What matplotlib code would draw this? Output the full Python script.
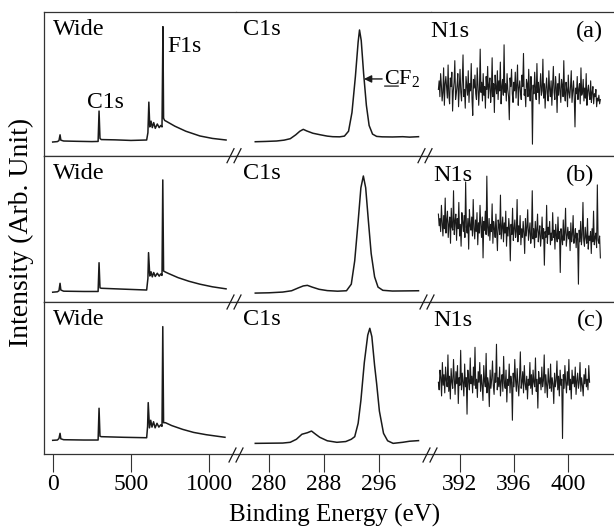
import numpy as np
import matplotlib
matplotlib.use('Agg')
import matplotlib.pyplot as plt
from matplotlib.lines import Line2D

plt.rcParams['font.family'] = ['Liberation Serif', 'DejaVu Serif']
plt.rcParams['font.size'] = 17
plt.rcParams['mathtext.fontset'] = 'custom'
plt.rcParams['mathtext.rm'] = 'Liberation Serif'

# ---------------------------------------------------------------- data
panel_tags = ['(a)', '(b)', '(c)']

# survey scans (binding energy in eV, intensity in % of panel height)
wide_ev_a = [0, 30, 40, 47, 52, 70, 150, 250, 290, 296, 302, 310, 400, 500, 600,
             608, 614, 620, 628, 636, 645, 655, 668, 680, 690, 698, 704, 708,
             715, 730, 780, 850, 940, 1020, 1107]
wide_a = [9.5, 9.8, 10.5, 14.5, 10.8, 10.2, 10.0, 9.8, 9.9, 31.0, 12.0, 11.2, 11.0,
          10.6, 10.9, 16.0, 37.2, 20.0, 24.0, 19.5, 23.0, 19.0, 22.0, 19.5, 21.0,
          20.0, 89.6, 26.0, 24.5, 23.6, 20.5, 17.0, 13.7, 12.0, 10.9]

wide_ev_b = [0, 30, 40, 47, 52, 70, 200, 290, 296, 302, 310, 450, 600, 608, 612,
             620, 628, 636, 645, 655, 668, 680, 690, 698, 703, 708, 720, 740, 800,
             870, 940, 1020, 1107]
wide_b = [6.5, 6.8, 7.5, 12.6, 8.0, 7.2, 7.0, 7.0, 26.7, 9.5, 9.2, 8.6, 8.0, 16.0,
          33.6, 17.6, 20.5, 17.0, 20.0, 17.3, 19.5, 17.5, 19.0, 18.0, 83.4, 21.0,
          20.3, 19.3, 16.5, 14.0, 12.0, 10.2, 8.8]

wide_ev_c = [0, 30, 40, 47, 52, 70, 200, 290, 296, 302, 310, 450, 600, 606, 610,
             618, 626, 634, 644, 654, 666, 678, 690, 698, 703, 708, 720, 760, 830,
             900, 980, 1050, 1100]
wide_c = [8.8, 9.0, 10.0, 13.4, 9.8, 9.2, 9.0, 9.0, 29.9, 11.5, 11.2, 10.8, 10.5,
          18.0, 33.6, 17.0, 22.0, 17.5, 21.0, 17.0, 20.0, 17.5, 19.0, 18.0, 83.6,
          20.4, 20.4, 18.5, 16.0, 14.0, 12.5, 11.5, 10.8]

# C 1s narrow scans
c1s_ev_a = [278.0, 279.5, 281.1, 282.2, 283.1, 283.9, 284.5, 285.0, 285.5, 286.4,
            287.5, 288.5, 289.3, 290.3, 291.0, 291.6, 292.1, 292.6, 293.0, 293.2,
            293.45, 293.8, 294.2, 294.6, 295.1, 295.7, 296.5, 298.0, 299.5, 300.5,
            301.8]
c1s_a = [9.7, 9.9, 10.2, 10.8, 11.8, 14.5, 17.0, 18.3, 17.2, 15.6, 14.5, 13.6, 13.2,
         13.1, 13.6, 17.0, 30.0, 55.0, 79.0, 87.3, 80.0, 57.0, 35.0, 21.0, 15.0,
         13.4, 13.1, 13.0, 13.2, 12.9, 13.2]

c1s_ev_b = [278.0, 280.0, 282.0, 283.3, 284.3, 285.0, 285.6, 286.3, 287.3, 288.5,
            290.0, 291.3, 292.0, 292.5, 293.0, 293.4, 293.76, 294.1, 294.5, 294.9,
            295.4, 295.9, 296.6, 298.0, 300.0, 301.8]
c1s_b = [5.9, 6.1, 6.6, 7.5, 9.5, 10.8, 11.2, 10.0, 8.5, 7.6, 7.2, 7.5, 12.0, 28.0,
         55.0, 78.0, 86.1, 78.0, 55.0, 33.0, 17.0, 10.0, 7.8, 7.3, 7.4, 7.5]

c1s_ev_c = [278.0, 280.0, 282.0, 283.1, 284.0, 284.8, 285.6, 286.2, 286.8, 287.4,
            288.5, 289.9, 291.2, 292.0, 292.5, 293.0, 293.4, 293.9, 294.4, 294.7,
            295.0, 295.4, 295.7, 296.1, 296.7, 297.3, 298.1, 299.5, 300.5, 301.8]
c1s_c = [6.8, 6.9, 7.0, 7.5, 9.5, 12.8, 13.8, 14.9, 12.8, 10.8, 8.5, 7.5, 8.0, 9.5,
         11.2, 20.0, 35.0, 60.0, 78.0, 82.5, 77.0, 58.0, 46.0, 28.0, 13.4, 8.5, 6.8,
         7.5, 8.2, 8.6]

# N 1s narrow scans (equally spaced channels)
n1s_range_a = (390.4, 402.4)
n1s_a = [46, 52, 41, 57, 49, 38, 44, 61, 35, 50, 55, 47, 40, 63, 42, 36, 54, 48, 58,
         31, 45, 51, 66, 39, 43, 49, 57, 34, 47, 60, 44, 38, 52, 70, 41, 46, 33, 55,
         48, 42, 59, 37, 50, 45, 64, 40, 28, 53, 47, 56, 43, 39, 61, 49, 35, 46, 74,
         44, 51, 38, 57, 42, 48, 33, 55, 46, 62, 40, 49, 54, 37, 45, 68, 41, 50, 30,
         56, 47, 43, 59, 39, 52, 45, 65, 36, 48, 53, 42, 77, 44, 50, 38, 57, 46, 41,
         25, 54, 48, 60, 43, 37, 51, 45, 58, 40, 49, 63, 35, 47, 52, 44, 39, 56, 48,
         71, 42, 46, 34, 53, 50, 41, 60, 45, 38, 55, 47, 8, 49, 43, 58, 46, 39, 64,
         44, 51, 36, 48, 57, 42, 45, 67, 40, 50, 33, 47, 54, 43, 38, 59, 46, 41, 52,
         35, 48, 62, 44, 39, 55, 47, 30, 50, 42, 57, 45, 37, 53, 49, 41, 66, 43, 38,
         51, 46, 34, 56, 44, 40, 48, 59, 37, 45, 52, 41, 20, 47, 43, 55, 39, 46, 50,
         36, 61, 42, 44, 53, 38, 47, 40, 57, 35, 45, 49, 42, 39, 52, 37, 44, 48, 36,
         43, 41, 46, 34, 40, 38, 42, 36, 39]

n1s_range_b = (390.4, 402.4)
n1s_b = [60, 52, 57, 48, 66, 54, 45, 59, 50, 71, 47, 56, 62, 44, 53, 58, 40, 64, 51,
         49, 76, 46, 55, 60, 42, 57, 50, 68, 45, 53, 38, 61, 55, 48, 59, 44, 82, 51,
         47, 57, 36, 63, 52, 49, 58, 45, 70, 50, 43, 56, 48, 61, 39, 54, 47, 66, 52,
         44, 58, 30, 55, 49, 62, 46, 86, 51, 45, 57, 42, 53, 48, 67, 40, 55, 50, 44,
         60, 47, 35, 56, 52, 46, 73, 43, 50, 58, 41, 54, 47, 62, 38, 51, 45, 57, 49,
         28, 53, 46, 64, 42, 50, 56, 44, 48, 70, 41, 52, 46, 59, 39, 50, 44, 55, 47,
         33, 57, 45, 51, 63, 42, 48, 54, 40, 46, 76, 43, 50, 37, 55, 44, 49, 60, 41,
         47, 52, 38, 45, 58, 43, 50, 25, 48, 44, 66, 40, 51, 46, 55, 39, 47, 42, 61,
         44, 49, 36, 53, 45, 41, 58, 43, 48, 20, 50, 44, 39, 56, 42, 47, 64, 38, 45,
         51, 43, 48, 35, 54, 41, 46, 59, 40, 44, 50, 37, 47, 43, 12, 49, 41, 55, 39,
         46, 68, 42, 38, 51, 44, 40, 57, 36, 45, 42, 48, 33, 50, 41, 62, 39, 44, 47,
         37, 80, 42, 40, 45, 30]

n1s_range_c = (390.4, 401.6)
n1s_c = [47, 42, 55, 50, 38, 60, 45, 52, 40, 57, 48, 44, 65, 41, 51, 36, 56, 47, 43,
         62, 49, 39, 54, 46, 58, 33, 50, 45, 68, 42, 53, 47, 38, 59, 44, 50, 26, 55,
         48, 42, 63, 46, 51, 40, 57, 45, 70, 43, 49, 37, 54, 47, 60, 41, 52, 45, 35,
         58, 48, 44, 66, 40, 50, 46, 31, 55, 43, 49, 61, 45, 39, 53, 47, 72, 42, 50,
         44, 57, 38, 48, 52, 41, 64, 46, 43, 55, 34, 49, 45, 59, 40, 51, 47, 22, 53,
         44, 62, 48, 41, 56, 45, 38, 50, 67, 43, 47, 54, 40, 58, 46, 42, 51, 36, 49,
         45, 60, 43, 52, 39, 55, 47, 44, 63, 41, 49, 30, 54, 46, 50, 42, 57, 44, 48,
         65, 40, 52, 45, 37, 56, 47, 43, 59, 41, 50, 46, 33, 53, 44, 48, 61, 42, 51,
         38, 55, 45, 49, 10, 52, 43, 58, 47, 40, 54, 45, 62, 42, 49, 36, 55, 46, 51,
         44, 57, 39, 48, 53, 43, 47, 60, 41, 50, 45, 38, 52, 46, 56, 44, 49, 42, 58,
         47]

wide_rows = [(wide_ev_a, wide_a), (wide_ev_b, wide_b), (wide_ev_c, wide_c)]
c1s_rows = [(c1s_ev_a, c1s_a), (c1s_ev_b, c1s_b), (c1s_ev_c, c1s_c)]
n1s_rows = [(n1s_range_a, n1s_a), (n1s_range_b, n1s_b), (n1s_range_c, n1s_c)]

seg_names = ['Wide', 'C1s', 'N1s']
seg_xlim = [(-53.6, 1170.5), (275.19, 303.58), (389.83, 403.41)]
seg_ticks = [[0, 500, 1000], [280, 288, 296], [392, 396, 400]]

# ---------------------------------------------------------------- figure
W, H = 614, 527
fig = plt.figure(figsize=(W / 100, H / 100), dpi=100)
gs = fig.add_gridspec(3, 3, left=44.3 / W, right=1.0,
                      top=1 - 11.7 / H, bottom=1 - 453.7 / H,
                      wspace=0, hspace=0,
                      width_ratios=[191.7, 194.7, 183.3],
                      height_ratios=[144, 146, 152])

ink = '#1a1a1a'
spine_c = '#333333'

# label placement per row (axes fractions)
name_y = [0.875, 0.875, 0.885]
n1s_x = [0.0, 0.012, 0.012]
tag_x = [0.94, 0.89, 0.945]

axes = [[None] * 3 for _ in range(3)]
for i in range(3):
    for j in range(3):
        ax = fig.add_subplot(gs[i, j])
        axes[i][j] = ax
        ax.set_xlim(*seg_xlim[j])
        ax.set_ylim(0, 100)
        ax.set_yticks([])
        ax.spines['right'].set_visible(False)
        if j > 0:
            ax.spines['left'].set_visible(False)
        for sp in ax.spines.values():
            sp.set_linewidth(0.9)
            sp.set_color(spine_c)
        if i < 2:
            ax.set_xticks([])
        else:
            ax.set_xticks(seg_ticks[j])
            ax.tick_params(axis='x', direction='out', length=12.7, width=0.8,
                           pad=2, labelsize=17, color=spine_c)

    ev, y = wide_rows[i]
    axes[i][0].plot(ev, y, color=ink, lw=1.1)
    ev, y = c1s_rows[i]
    axes[i][1].plot(ev, y, color=ink, lw=1.1)
    (e0, e1), y = n1s_rows[i]
    axes[i][2].plot(np.linspace(e0, e1, len(y)), y, color=ink, lw=0.8)

    axes[i][0].text(0.045, name_y[i], seg_names[0], transform=axes[i][0].transAxes,
                    ha='left', va='center', fontsize=17.5)
    axes[i][1].text(0.036, name_y[i], seg_names[1], transform=axes[i][1].transAxes,
                    ha='left', va='center', fontsize=17.5)
    axes[i][2].text(n1s_x[i], name_y[i] - 0.01, seg_names[2],
                    transform=axes[i][2].transAxes, ha='left', va='center',
                    fontsize=17.5)
    axes[i][2].text(tag_x[i], name_y[i] - 0.01, panel_tags[i],
                    transform=axes[i][2].transAxes, ha='right', va='center',
                    fontsize=17.5)

# peak labels on the top survey scan
axes[0][0].text(219, 36.6, 'C1s', ha='left', va='center', fontsize=17)
axes[0][0].text(730, 75.5, 'F1s', ha='left', va='center', fontsize=17)

# CF2 component marker on the top C1s scan
ax = axes[0][1]
ax.annotate('', xy=(293.85, 53.3), xytext=(296.5, 53.3),
            arrowprops=dict(arrowstyle='-|>', color=ink, lw=1.0,
                            mutation_scale=11, shrinkA=0, shrinkB=0))
t_cf = ax.text(296.75, 53.3, r'CF$_2$', ha='left', va='center', fontsize=16)
ax.annotate('', xy=(0.02, 0.17), xycoords=t_cf, xytext=(0.40, 0.17),
            textcoords=t_cf, arrowprops=dict(arrowstyle='-', color=ink, lw=0.9,
                                             shrinkA=0, shrinkB=0))


# "//" break marks on the horizontal rules, in figure pixels
def break_mark(xc, yc):
    for dx in (-3.5, 3.5):
        x0, x1 = xc + dx - 3.5, xc + dx + 3.5
        fig.add_artist(Line2D([x0 / W, x1 / W], [1 - (yc + 7) / H, 1 - (yc - 7) / H],
                              transform=fig.transFigure, color=ink, lw=0.9))


for xc, yc in [(234, 155.7), (425, 155.7), (234, 302), (427, 302),
               (236, 455), (430, 455)]:
    break_mark(xc, yc)

fig.text(335 / W, 1 - 515 / H, 'Binding Energy (eV)', ha='center', va='center',
         fontsize=18)
fig.text(21 / W, 1 - 232 / H, 'Intensity (Arb. Unit)', rotation=90,
         ha='center', va='center', fontsize=20)

fig.savefig('out.png', dpi=100)
